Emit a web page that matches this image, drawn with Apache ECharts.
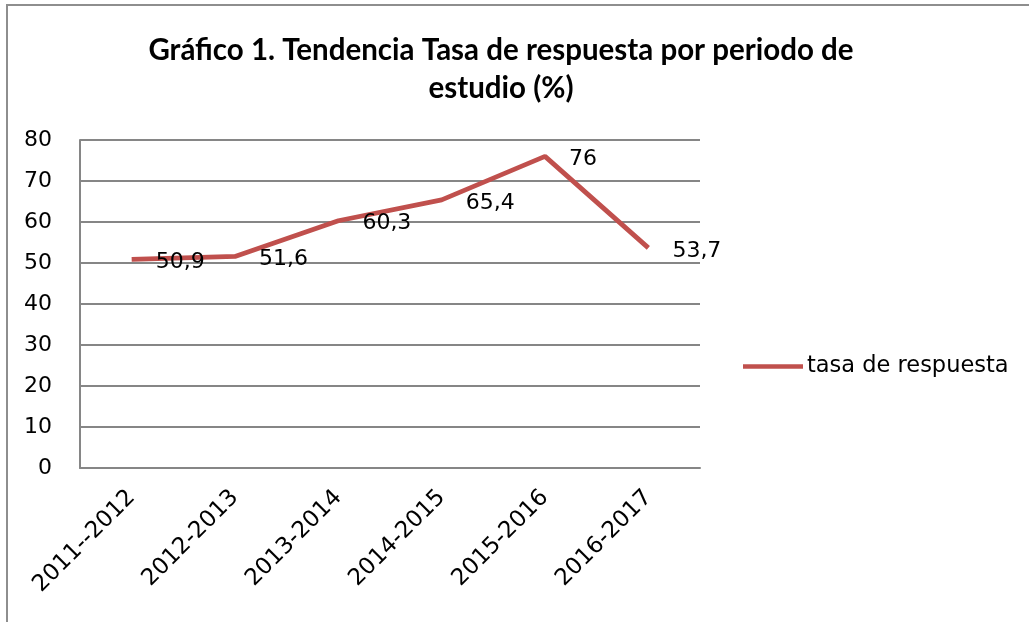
<!DOCTYPE html>
<html><head><meta charset="utf-8">
<script src="https://cdn.jsdelivr.net/npm/echarts@6/dist/echarts.min.js"></script>
<style>html,body{margin:0;padding:0;background:#fff}#c{width:1029px;height:622px}</style>
</head><body><div id="c"></div>
<script>
const categories = ['2011--2012','2012-2013','2013-2014','2014-2015','2015-2016','2016-2017'];
const tasaValues = [50.9, 51.6, 60.3, 65.4, 76, 53.7];
const seriesName = 'tasa de respuesta';
const titleText = 'Gráfico 1. Tendencia Tasa de respuesta por periodo de\nestudio (%)';

const chart = echarts.init(document.getElementById('c'));
const lab = "'DejaVu Sans', Verdana, sans-serif";
chart.setOption({
  animation: false,
  backgroundColor: '#fff',
  graphic: [{type:'rect', shape:{x:7,y:5,width:1200,height:800}, style:{fill:'none', stroke:'#8e8e8e', lineWidth:2}, silent:true}],
  title: {text: titleText, left: 496, top: 26, textAlign: 'center',
    textStyle:{fontFamily:"Lato, 'Open Sans', sans-serif", fontWeight:'bold', fontSize:29.5, lineHeight:38, color:'#000'}},
  legend: {left: 738, top: 350, itemWidth: 60, itemHeight: 14,
    textStyle:{fontFamily: lab, fontSize:22.5, color:'#000', padding:[0,0,0,-1]},
    data:[{name: seriesName, icon: 'path://M0,6 L60,6 L60,10.5 L0,10.5 Z'}]},
  grid: {left: 80, top: 140, right: 329, bottom: 154},
  xAxis: {type:'category', data: categories, boundaryGap: true,
    axisLine:{lineStyle:{color:'#868686', width:2}}, axisTick:{show:false},
    axisLabel:{rotate:45, fontFamily: lab, fontSize:23, color:'#000', margin:26, interval:0}},
  yAxis: {type:'value', min:0, max:80, interval:10,
    axisLine:{show:true, lineStyle:{color:'#868686', width:2}}, axisTick:{show:false},
    splitLine:{lineStyle:{color:'#868686', width:2}},
    axisLabel:{fontFamily: lab, fontSize:22, color:'#000', margin:28}},
  series: [{name: seriesName, type:'line', data: tasaValues, symbol:'circle', symbolSize:0.1, showSymbol:true,
    lineStyle:{color:'#C0504D', width:4.8}, itemStyle:{color:'#C0504D'},
    label:{show:true, position:'right', distance:24, offset:[0,3], fontFamily: lab, fontSize:22, color:'#000',
      formatter: p => String(p.value).replace('.', ',')}}]
});
</script></body></html>
